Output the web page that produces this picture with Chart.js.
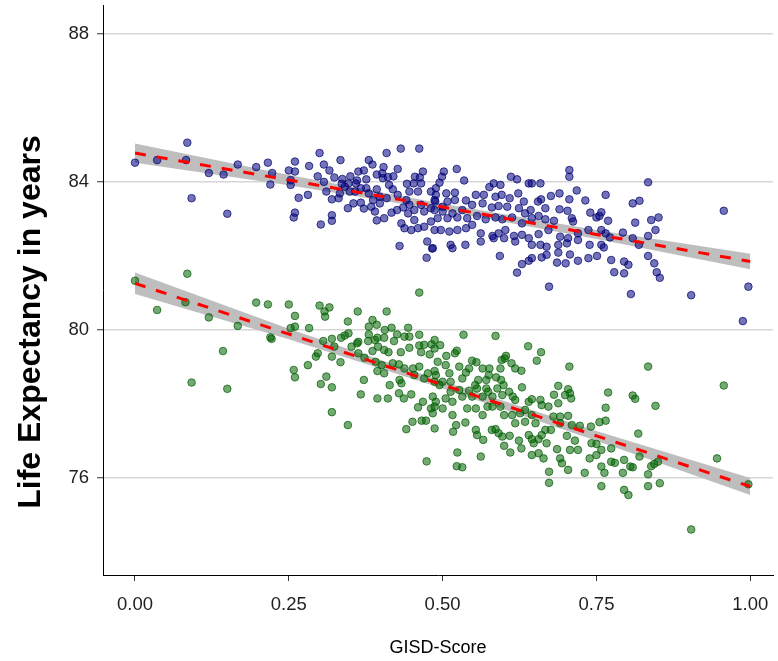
<!DOCTYPE html>
<html>
<head>
<meta charset="utf-8">
<script src="https://cdn.jsdelivr.net/npm/chart.js@4.4.1/dist/chart.umd.min.js"></script>
<style>
  html, body { margin: 0; padding: 0; background: #fff; }
  #wrap { width: 778px; height: 661px; }
</style>
</head>
<body>
<div id="wrap"><canvas id="chart"></canvas></div>
<script>
const xTicks = [0, 0.25, 0.5, 0.75, 1];
const xTickLabels = ['0.00', '0.25', '0.50', '0.75', '1.00'];
const yTicks = [76, 80, 84, 88];

// regression fits + confidence bands
const fitScore = [0, 0.25, 0.5, 0.75, 1];
const blueFit = [84.78, 84.05, 83.32, 82.58, 81.85];
const blueUpper = [85.04, 84.19, 83.41, 82.70, 82.06];
const blueLower = [84.52, 83.91, 83.23, 82.46, 81.64];
const greenFit = [81.26, 79.89, 78.52, 77.14, 75.77];
const greenUpper = [81.55, 80.03, 78.62, 77.27, 76.0];
const greenLower = [80.97, 79.75, 78.42, 77.01, 75.54];

// [GISD-Score, life expectancy]
const bluePoints = [
  [0.085,85.06],[0.000,84.52],[0.036,84.59],[0.083,84.59],[0.120,84.24],[0.144,84.20],[0.167,84.47],[0.197,84.40],
  [0.216,84.52],[0.223,84.24],[0.220,83.93],[0.092,83.56],[0.150,83.14],
  [0.300,84.78],[0.409,84.78],[0.432,84.90],[0.462,84.90],[0.334,84.59],[0.380,84.59],[0.260,84.55],[0.283,84.43],
  [0.307,84.47],[0.386,84.47],[0.404,84.40],[0.427,84.35],[0.250,84.31],[0.260,84.28],[0.316,84.31],[0.468,84.28],
  [0.297,84.15],[0.324,84.12],[0.337,84.08],[0.350,84.15],[0.363,84.28],[0.372,84.31],[0.393,84.20],[0.402,84.23],
  [0.420,84.15],[0.253,84.05],[0.253,83.92],[0.307,84.00],[0.336,83.95],[0.347,83.96],[0.361,84.04],[0.376,84.07],
  [0.403,84.10],[0.411,84.13],[0.455,84.14],[0.463,84.12],[0.266,83.57],[0.281,83.65],[0.320,83.53],[0.331,83.56],
  [0.311,83.74],[0.367,83.83],[0.376,83.83],[0.393,83.80],[0.413,83.92],[0.419,83.80],[0.442,83.95],[0.453,83.96],
  [0.465,83.96],[0.427,83.65],[0.446,83.74],[0.460,83.74],[0.481,83.74],[0.333,83.69],[0.341,83.87],[0.358,83.74],
  [0.380,83.69],[0.387,83.51],[0.398,83.60],[0.409,83.56],[0.260,83.17],[0.258,83.04],[0.302,82.85],[0.320,83.10],
  [0.320,82.95],[0.346,83.29],[0.367,83.44],[0.372,83.28],[0.390,83.20],[0.393,82.96],[0.405,83.02],[0.417,83.17],
  [0.426,83.24],[0.436,83.31],[0.444,83.15],[0.454,83.24],[0.470,83.20],[0.481,83.29],[0.433,82.88],[0.438,82.75],
  [0.449,82.70],[0.460,82.75],[0.470,82.79],[0.481,82.93],[0.430,82.27],[0.475,82.39],[0.483,82.20],[0.474,81.95],
  [0.454,82.97],[0.465,83.38],[0.487,83.51],[0.441,83.51],[0.446,83.38],[0.398,83.42],[0.384,83.33],[0.355,83.42],
  [0.349,83.74],[0.359,83.96],
  [0.523,84.35],[0.502,84.28],[0.499,84.14],[0.535,84.04],[0.495,83.98],[0.611,84.14],[0.621,84.07],[0.640,83.96],
  [0.645,83.96],[0.659,83.96],[0.706,84.32],[0.706,84.14],[0.583,83.96],[0.594,83.92],[0.576,83.86],[0.718,83.77],
  [0.690,83.69],[0.676,83.62],[0.706,83.53],[0.732,83.50],[0.740,83.17],[0.489,83.83],[0.489,83.65],[0.506,83.69],
  [0.520,83.71],[0.508,83.47],[0.520,83.51],[0.538,83.50],[0.554,83.65],[0.567,83.65],[0.586,83.60],[0.596,83.65],
  [0.609,83.56],[0.623,83.69],[0.632,83.47],[0.655,83.47],[0.660,83.53],[0.667,83.29],[0.690,83.26],[0.703,83.22],
  [0.710,83.02],[0.712,82.93],[0.681,82.95],[0.667,82.99],[0.656,83.08],[0.643,83.24],[0.634,83.15],[0.624,83.29],
  [0.605,83.33],[0.591,83.35],[0.580,83.31],[0.565,83.42],[0.548,83.38],[0.532,83.24],[0.516,83.15],[0.500,83.20],
  [0.487,83.24],[0.492,83.02],[0.508,83.02],[0.524,83.04],[0.540,83.02],[0.556,83.08],[0.570,82.99],[0.586,83.04],
  [0.597,82.99],[0.613,83.04],[0.629,82.88],[0.645,83.02],[0.487,82.70],[0.497,82.70],[0.511,82.66],[0.524,82.70],
  [0.538,82.75],[0.548,82.84],[0.562,82.61],[0.581,82.54],[0.591,82.61],[0.602,82.70],[0.616,82.54],[0.629,82.57],
  [0.640,82.48],[0.656,82.59],[0.672,82.70],[0.691,82.52],[0.704,82.48],[0.720,82.61],[0.737,82.70],[0.484,82.21],
  [0.513,82.30],[0.516,82.21],[0.537,82.30],[0.562,82.39],[0.583,82.48],[0.600,82.48],[0.618,82.39],[0.645,82.30],
  [0.659,82.30],[0.669,82.25],[0.688,82.30],[0.702,82.34],[0.720,82.43],[0.739,82.30],[0.593,82.00],[0.645,81.94],
  [0.661,81.96],[0.669,82.03],[0.688,82.09],[0.707,82.04],[0.720,81.87],[0.737,81.94],[0.629,81.78],[0.640,81.87],
  [0.686,81.82],[0.700,81.80],[0.621,81.55],[0.673,81.17],[0.500,83.33],[0.488,83.47],
  [0.834,83.99],[0.765,83.65],[0.809,83.42],[0.820,83.49],[0.750,83.04],[0.758,83.18],[0.755,83.08],[0.769,82.95],
  [0.813,82.90],[0.839,82.97],[0.851,83.04],[0.957,83.22],[0.846,82.70],[0.834,82.54],[0.793,82.63],[0.758,82.70],
  [0.765,82.61],[0.809,82.48],[0.758,82.30],[0.762,82.23],[0.819,82.30],[0.751,82.00],[0.774,81.89],[0.795,81.85],
  [0.802,81.76],[0.834,82.00],[0.844,81.80],[0.848,81.56],[0.853,81.41],[0.779,81.56],[0.795,81.53],[0.806,80.97],
  [0.904,80.94],[0.997,81.17],[0.772,82.50],[0.988,80.24]
];

const greenPoints = [
  [0.085,81.52],[0.000,81.33],[0.036,80.54],[0.082,80.75],[0.120,80.34],[0.167,80.11],[0.197,80.74],[0.216,80.69],
  [0.220,79.80],[0.222,79.76],[0.143,79.43],[0.092,78.58],[0.150,78.41],
  [0.462,81.01],[0.250,80.69],[0.300,80.66],[0.316,80.61],[0.308,80.50],[0.309,80.36],[0.260,80.38],[0.362,80.50],
  [0.409,80.50],[0.253,80.05],[0.260,80.09],[0.283,80.05],[0.346,80.23],[0.386,80.27],[0.380,80.09],[0.393,80.14],
  [0.417,80.06],[0.406,80.00],[0.444,80.06],[0.462,79.87],[0.438,79.82],[0.446,79.82],[0.426,79.88],[0.380,79.88],
  [0.394,79.79],[0.405,79.79],[0.390,79.73],[0.421,79.70],[0.379,79.70],[0.347,79.91],[0.341,79.85],[0.335,79.79],
  [0.320,79.76],[0.306,79.70],[0.324,79.55],[0.352,79.55],[0.361,79.64],[0.386,79.43],[0.405,79.46],[0.412,79.40],
  [0.432,79.40],[0.446,79.52],[0.462,79.58],[0.470,79.60],[0.482,79.61],[0.465,79.40],[0.479,79.34],[0.487,79.50],
  [0.297,79.37],[0.294,79.28],[0.320,79.28],[0.334,79.13],[0.363,79.37],[0.373,79.25],[0.391,79.14],[0.401,79.05],
  [0.419,79.10],[0.429,79.07],[0.438,78.96],[0.452,78.96],[0.462,79.01],[0.476,78.83],[0.487,78.89],[0.281,79.05],
  [0.258,78.92],[0.260,78.72],[0.311,78.74],[0.302,78.54],[0.320,78.45],[0.372,78.65],[0.394,78.89],[0.405,78.83],
  [0.430,78.65],[0.433,78.56],[0.414,78.51],[0.367,78.26],[0.394,78.15],[0.411,78.15],[0.429,78.29],[0.437,78.15],
  [0.449,78.26],[0.468,78.06],[0.484,78.20],[0.454,78.78],[0.470,78.69],[0.487,78.60],[0.363,79.68],[0.395,79.55],
  [0.460,77.91],[0.481,77.88],[0.484,77.75],[0.489,78.06],[0.451,77.52],[0.441,77.32],[0.466,77.55],[0.473,77.55],
  [0.320,77.78],[0.346,77.43],[0.474,76.45],
  [0.534,79.87],[0.586,79.84],[0.639,79.56],[0.660,79.40],[0.653,79.17],[0.706,79.01],[0.487,79.73],[0.496,79.59],
  [0.506,79.30],[0.523,79.44],[0.520,79.37],[0.492,79.14],[0.505,79.05],[0.527,79.01],[0.548,79.17],[0.555,79.13],
  [0.543,78.96],[0.565,78.96],[0.576,78.96],[0.596,79.19],[0.603,79.30],[0.601,79.23],[0.612,79.10],[0.618,78.96],
  [0.628,78.90],[0.594,78.96],[0.489,78.78],[0.511,78.83],[0.500,78.60],[0.513,78.60],[0.532,78.69],[0.538,78.85],
  [0.558,78.65],[0.553,78.51],[0.571,78.65],[0.575,78.78],[0.587,78.72],[0.595,78.65],[0.599,78.51],[0.589,78.42],
  [0.629,78.45],[0.571,78.42],[0.556,78.42],[0.543,78.36],[0.527,78.38],[0.513,78.33],[0.495,78.51],[0.505,78.15],
  [0.516,78.06],[0.532,78.20],[0.548,78.20],[0.565,78.20],[0.574,78.33],[0.581,78.20],[0.597,78.24],[0.608,78.33],
  [0.614,78.20],[0.618,78.11],[0.640,78.06],[0.645,78.13],[0.659,78.11],[0.688,78.49],[0.704,78.40],[0.707,78.29],
  [0.709,78.15],[0.699,78.24],[0.681,78.25],[0.688,78.02],[0.672,77.93],[0.661,77.97],[0.634,77.84],[0.626,77.75],
  [0.613,77.70],[0.600,77.70],[0.594,77.93],[0.581,77.93],[0.573,77.93],[0.554,77.88],[0.540,77.88],[0.516,77.70],
  [0.500,77.88],[0.487,77.93],[0.565,77.70],[0.645,77.70],[0.680,77.66],[0.691,77.66],[0.704,77.68],
  [0.487,77.34],[0.522,77.43],[0.537,77.50],[0.517,77.25],[0.554,77.30],[0.556,77.16],[0.566,77.03],[0.580,77.30],
  [0.586,77.32],[0.591,77.21],[0.597,77.12],[0.609,77.14],[0.600,76.87],[0.610,76.69],[0.624,77.01],[0.628,76.80],
  [0.640,77.16],[0.645,77.05],[0.648,76.94],[0.656,77.05],[0.661,77.16],[0.667,77.30],[0.676,77.30],[0.669,76.94],
  [0.686,76.78],[0.664,76.53],[0.645,76.62],[0.656,76.67],[0.691,76.53],[0.694,76.40],[0.704,76.22],[0.673,76.17],
  [0.673,75.87],[0.731,76.14],[0.524,76.69],[0.562,76.58],[0.523,76.32],[0.532,76.29],[0.702,77.14],[0.715,77.01],
  [0.707,76.76],[0.720,76.76],[0.723,77.41],[0.739,76.53],[0.710,77.43],[0.618,77.48],[0.634,77.52],[0.691,77.48],
  [0.651,77.48],
  [0.834,79.01],[0.957,78.50],[0.769,78.31],[0.809,78.23],[0.813,78.14],[0.846,77.95],[0.765,77.90],[0.765,77.55],
  [0.755,77.51],[0.741,77.39],[0.818,77.20],
  [0.742,76.94],[0.750,76.92],[0.758,76.76],[0.774,76.80],[0.750,76.62],[0.774,76.44],[0.780,76.41],[0.795,76.49],
  [0.820,76.58],[0.758,76.31],[0.763,76.14],[0.793,76.14],[0.805,76.31],[0.809,76.29],[0.839,76.32],[0.844,76.38],
  [0.850,76.44],[0.834,76.10],[0.853,75.86],[0.834,75.78],[0.758,75.78],[0.795,75.68],[0.802,75.54],[0.904,74.61],
  [0.946,76.53],[0.997,75.83]
];

const FONT = '"Liberation Sans", Arial, sans-serif';

const toXY = (xs, ys) => xs.map((x, i) => ({x: x, y: ys[i]}));
const pairs = pts => pts.map(p => ({x: p[0], y: p[1]}));

function band(ys, fill) {
    return {
        type: 'line',
        data: toXY(fitScore, ys),
        borderColor: 'rgba(0,0,0,0)',
        borderWidth: 0,
        pointRadius: 0,
        backgroundColor: '#bebebe',
        fill: fill,
        order: 3
    };
}

function fitLine(ys) {
    return {
        type: 'line',
        data: toXY(fitScore, ys),
        borderColor: '#ff0000',
        borderWidth: 3,
        borderDash: [11, 11],
        pointRadius: 0,
        fill: false,
        order: 1
    };
}

// y axis title drawn by hand so it can sit where the original has it
const yTitle = {
    id: 'yTitle',
    afterDraw(chart) {
        const ctx = chart.ctx;
        ctx.save();
        ctx.translate(31, 322);
        ctx.rotate(-Math.PI / 2);
        ctx.font = 'bold 32px ' + FONT;
        ctx.fillStyle = '#000';
        ctx.textAlign = 'center';
        ctx.textBaseline = 'middle';
        ctx.fillText('Life Expectancy in years', 0, 0);
        ctx.restore();
    }
};

new Chart(document.getElementById('chart'), {
    type: 'scatter',
    data: {
        datasets: [
            band(blueUpper, '+1'),
            band(blueLower, false),
            band(greenUpper, '+1'),
            band(greenLower, false),
            {
                data: pairs(bluePoints),
                backgroundColor: 'rgba(0,0,128,0.55)',
                borderColor: 'rgba(0,0,110,0.7)',
                borderWidth: 1,
                pointRadius: 3.8,
                order: 2
            },
            {
                data: pairs(greenPoints),
                backgroundColor: 'rgba(0,100,0,0.55)',
                borderColor: 'rgba(0,90,0,0.7)',
                borderWidth: 1,
                pointRadius: 3.8,
                order: 2
            },
            fitLine(blueFit),
            fitLine(greenFit)
        ]
    },
    options: {
        responsive: true,
        maintainAspectRatio: false,
        animation: false,
        layout: { padding: { top: 5, right: 0, bottom: 0, left: 0 } },
        plugins: {
            legend: { display: false },
            tooltip: { enabled: false }
        },
        scales: {
            x: {
                type: 'linear',
                min: -0.052,
                max: 1.037,
                afterBuildTicks: s => { s.ticks = xTicks.map(v => ({value: v})); },
                afterFit: s => { s.height = 86; s.paddingLeft = 0; s.paddingRight = 0; },
                ticks: {
                    autoSkip: false,
                    maxRotation: 0,
                    callback: (v, i) => xTickLabels[i],
                    font: { family: FONT, size: 18.5 },
                    color: '#1e1e1e',
                    padding: 13
                },
                grid: { drawOnChartArea: false, tickLength: 6, tickColor: '#333', tickWidth: 1 },
                border: { color: '#000', width: 1 },
                title: {
                    display: true,
                    text: 'GISD-Score',
                    font: { family: FONT, size: 18 },
                    color: '#000',
                    padding: { top: 4, bottom: 2 }
                }
            },
            y: {
                type: 'linear',
                min: 73.38,
                max: 88.78,
                afterBuildTicks: s => { s.ticks = yTicks.map(v => ({value: v})); },
                afterFit: s => { s.width = 103; s.paddingTop = 0; s.paddingBottom = 0; },
                ticks: {
                    autoSkip: false,
                    font: { family: FONT, size: 18.5 },
                    color: '#1e1e1e',
                    padding: 8
                },
                grid: { color: '#d6d6d6', lineWidth: 1.5, tickLength: 6, tickColor: '#333', tickWidth: 1 },
                border: { color: '#000', width: 1 }
            }
        }
    },
    plugins: [yTitle]
});
</script>
</body>
</html>
